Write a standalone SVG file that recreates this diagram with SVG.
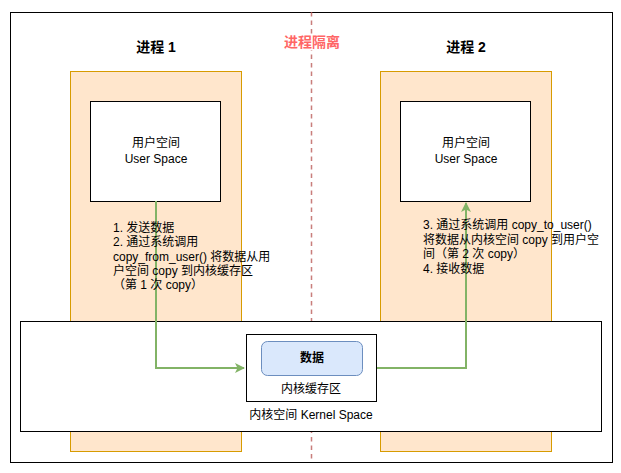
<svg xmlns="http://www.w3.org/2000/svg" width="621" height="473" viewBox="0 0 621 473">
<style>
text{font-family:"Liberation Sans","Noto Sans CJK SC",sans-serif;font-size:12px;fill:#000}
.t{font-size:14px;font-weight:bold}
.box{fill:#fff;stroke:#000;stroke-width:1}
.proc{fill:#ffe6cc;stroke:#d79b00;stroke-width:1}
.conn{fill:none;stroke:#82b366;stroke-width:2}
</style>
<defs>
<marker id="ah" viewBox="0 0 10 10" refX="9" refY="5" markerWidth="5" markerHeight="5" orient="auto" markerUnits="strokeWidth">
<path d="M0,0 L10,5 L0,10 L2.5,5 Z" fill="#82b366"/>
</marker>
</defs>
<rect width="621" height="473" fill="#fff"/>
<g id="outer"><rect class="box" x="10.5" y="12.5" width="602" height="450"/></g>
<g id="p1"><rect class="proc" x="70.5" y="71.5" width="171" height="380"/><text class="t" x="156" y="52" text-anchor="middle">进程 1</text></g>
<g id="p2"><rect class="proc" x="380.5" y="71.5" width="171" height="380"/><text class="t" x="466" y="52" text-anchor="middle">进程 2</text></g>
<g id="sep"><line x1="311.5" y1="12" x2="311.5" y2="462" stroke="#b85450" stroke-width="1.5" stroke-dasharray="4.5,4" opacity="0.75"/><rect x="282" y="34" width="60" height="16" fill="#fff"/><text class="t" x="312" y="47" text-anchor="middle" style="fill:#ff6666">进程隔离</text></g>
<g id="u1"><rect class="box" x="90.5" y="101.5" width="130" height="100"/><text x="156" y="147" text-anchor="middle">用户空间</text><text x="156" y="163" text-anchor="middle">User Space</text></g>
<g id="u2"><rect class="box" x="400.5" y="101.5" width="130" height="100"/><text x="466" y="147" text-anchor="middle">用户空间</text><text x="466" y="163" text-anchor="middle">User Space</text></g>
<g id="kernel"><rect class="box" x="20.5" y="321.5" width="581" height="110"/><text x="311" y="419" text-anchor="middle">内核空间 Kernel Space</text></g>
<g id="buf"><rect class="box" x="246.5" y="334.5" width="130" height="67"/><text x="311" y="393" text-anchor="middle">内核缓存区</text></g>
<g id="data"><rect x="261.5" y="341.5" width="101" height="34" rx="6" fill="#dae8fc" stroke="#6c8ebf"/><text x="312" y="362" text-anchor="middle" style="font-weight:bold">数据</text></g>
<g id="connectors">
<path class="conn" d="M156,201 V368 H244" marker-end="url(#ah)"/>
<path class="conn" d="M377,368 H466 V203" marker-end="url(#ah)"/>
</g>
<g id="lbl1">
<text x="113" y="232">1. 发送数据</text>
<text x="113" y="246">2. 通过系统调用</text>
<text x="113" y="261">copy_from_user() 将数据从用</text>
<text x="113" y="275">户空间 copy 到内核缓存区</text>
<text x="113" y="289">（第 1 次 copy）</text>
</g>
<g id="lbl2">
<text x="423" y="229">3. 通过系统调用 copy_to_user()</text>
<text x="423" y="244">将数据从内核空间 copy 到用户空</text>
<text x="423" y="258">间（第 2 次 copy）</text>
<text x="423" y="273">4. 接收数据</text>
</g>
</svg>
